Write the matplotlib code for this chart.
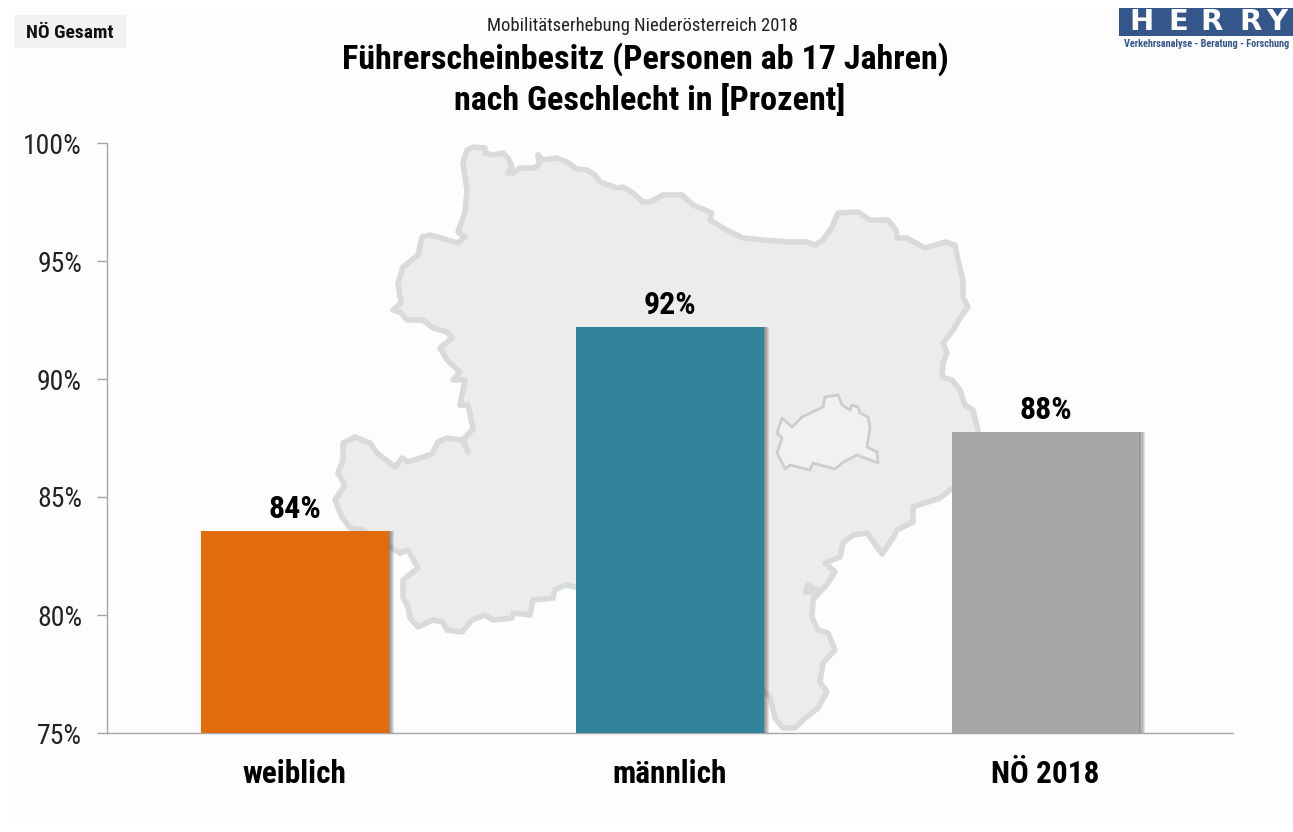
import matplotlib
matplotlib.use('Agg')
import matplotlib.pyplot as plt
import matplotlib.patheffects as pe
from matplotlib.patches import Polygon, Rectangle

categories = ['weiblich', 'männlich', 'NÖ 2018']
values = [83.56, 92.2, 87.75]
value_labels = ['84%', '92%', '88%']
bar_colors = ['#e36c0a', '#31849b', '#a6a6a6']
y_ticks = [75, 80, 85, 90, 95, 100]

# Umriss Niederoesterreich / Wien, nur Dekoration, in Bildpixeln
noe_outline = [
    (467,150),(473,147),(485,148),(485,153),(493,155),(503,153),(508,158),(512,167),(508,173),
    (513,173),(520,168),(533,168),(539,165),(538,155),(543,160),(557,158),(567,162),(577,169),
    (587,170),(595,175),(600,182),(617,188),(623,187),(633,193),(643,202),(650,202),(663,195),
    (682,195),(693,205),(712,213),(710,220),(723,228),(743,238),(763,240),(790,242),(807,242),
    (815,245),(823,240),(832,227),(838,213),(858,212),(870,220),(888,220),(896,230),(897,238),
    (907,238),(925,248),(945,242),(955,245),(958,260),(963,280),(963,297),(968,307),(960,318),
    (953,330),(943,343),(947,353),(943,363),(942,377),(952,380),(960,390),(965,405),(973,410),
    (978,430),(984,460),(975,480),(950,490),(940,498),(913,507),(913,522),(897,530),(893,538),
    (882,554),(867,533),(853,535),(843,543),(840,557),(825,563),(835,572),(825,587),(818,593),
    (805,592),(808,585),(820,592),(813,600),(812,617),(818,630),(828,633),(835,650),(823,663),
    (820,682),(827,692),(818,708),(803,720),(795,728),(783,728),(775,718),(770,697),(765,692),
    (700,640),(620,590),(576,587),(565,585),(555,590),(553,598),(533,600),(530,615),(513,613),
    (512,618),(493,620),(485,615),(472,620),(462,632),(447,630),(443,622),(433,620),(418,627),
    (410,618),(408,607),(403,597),(403,580),(418,568),(408,550),(400,553),(390,547),(363,530),
    (350,528),(342,517),(335,500),(345,485),(338,473),(343,460),(343,443),(355,437),(370,443),
    (377,453),(395,467),(402,458),(408,462),(432,454),(438,442),(447,438),(463,440),(468,452),
    (463,440),(472,430),(473,428),(468,405),(460,405),(465,380),(453,380),(460,372),(447,360),
    (440,348),(452,338),(447,332),(433,328),(423,320),(407,320),(400,312),(393,310),(401,303),
    (398,283),(403,267),(418,255),(422,237),(430,235),(458,243),(465,237),(458,232),(465,212),
    (467,190),(463,163),
]
wien_outline = [
    (782,418),(792,427),(802,417),(823,407),(825,397),(838,395),(842,405),(850,410),(852,405),
    (858,407),(860,413),(868,417),(870,427),(867,447),(877,452),(878,463),(857,455),(842,463),
    (835,469),(813,463),(810,470),(790,465),(785,469),(777,453),(782,438),(777,433),
]

narrow = ['Roboto Condensed', 'Liberation Sans']
W, H = 1293, 832

fig = plt.figure(figsize=(W / 100, H / 100), dpi=100, facecolor='white')

# Hintergrund in Pixelkoordinaten
bg = fig.add_axes([0, 0, 1, 1], zorder=0)
bg.set_xlim(0, W)
bg.set_ylim(H, 0)
bg.axis('off')
bg.add_patch(Rectangle((8, 8), W - 8, H - 16, fc='#fdfdfd', ec='none'))
bg.add_patch(Polygon(noe_outline, closed=True, fc='#ecedeb', ec='#d9dada', lw=4, joinstyle='round'))
bg.add_patch(Polygon(wien_outline, closed=True, fc='#f1f1f1', ec='#cdcdcd', lw=2.0, joinstyle='round'))

# Hauptdiagramm
ax = fig.add_axes([107 / W, 1 - 733 / H, 1126 / W, 590 / H], zorder=1)
ax.patch.set_alpha(0)
xs = range(len(categories))
bars = ax.bar(xs, values, width=0.5, color=bar_colors, zorder=3)
for b in bars:
    b.set_path_effects(
        [pe.SimplePatchShadow(offset=(k, 0), shadow_rgbFace='#303030', alpha=0.13) for k in (4, 3.2, 2.4, 1.6, 0.8)]
        + [pe.Normal()]
    )
ax.set_xlim(-0.5, 2.5)
ax.set_ylim(75, 100)
ax.set_yticks(y_ticks)
ax.set_yticklabels(['{}%'.format(t) for t in y_ticks], family=narrow, fontsize=20, color='#222222')
ax.set_xticks(list(xs))
ax.set_xticklabels(categories, family=narrow, fontsize=22.5, fontweight='bold', color='black')
ax.tick_params(axis='y', length=7, width=1, color='#a6a6a6', pad=11)
ax.tick_params(axis='x', length=0, pad=19)
for s in ['top', 'right']:
    ax.spines[s].set_visible(False)
for s in ['left', 'bottom']:
    ax.spines[s].set_color('#a6a6a6')
    ax.spines[s].set_linewidth(1)

for x, v, lab in zip(xs, values, value_labels):
    ax.annotate(lab, (x, v), xytext=(0, 5), textcoords='offset points', ha='center', va='bottom',
                family=narrow, fontsize=23, fontweight='bold', color='black')

# Titel und Beschriftung
fg = fig.add_axes([0, 0, 1, 1], zorder=2)
fg.set_xlim(0, W)
fg.set_ylim(H, 0)
fg.axis('off')
fg.text(642, 26, 'Mobilitätserhebung Niederösterreich 2018', ha='center', va='center',
        family=narrow, fontsize=13.4, color='#222222')
fg.text(645.5, 59, 'Führerscheinbesitz (Personen ab 17 Jahren)', ha='center', va='center',
        family=narrow, fontsize=24.6, fontweight='bold', color='black')
fg.text(649.5, 100, 'nach Geschlecht in [Prozent]', ha='center', va='center',
        family=narrow, fontsize=24.6, fontweight='bold', color='black')

fg.add_patch(Rectangle((14, 15), 112, 33, fc='#f2f2f2', ec='none'))
fg.text(70, 32.5, 'NÖ Gesamt', ha='center', va='center', family=narrow, fontsize=14, fontweight='bold', color='#111111')

# Logo
fg.add_patch(Rectangle((1119, 8), 174, 28, fc='#34568b', ec='none'))
for ch, cx in zip('HERRY', [1141, 1178, 1212, 1251, 1277]):
    fg.text(cx, 22.5, ch, ha='center', va='center', family='DejaVu Sans', fontsize=21,
            fontweight='bold', color='white')
fg.text(1206.5, 44, 'Verkehrsanalyse - Beratung - Forschung', ha='center', va='center', family=narrow,
        fontsize=7.4, fontweight='bold', color='#34568b')

fig.savefig('out.png', dpi=100)
